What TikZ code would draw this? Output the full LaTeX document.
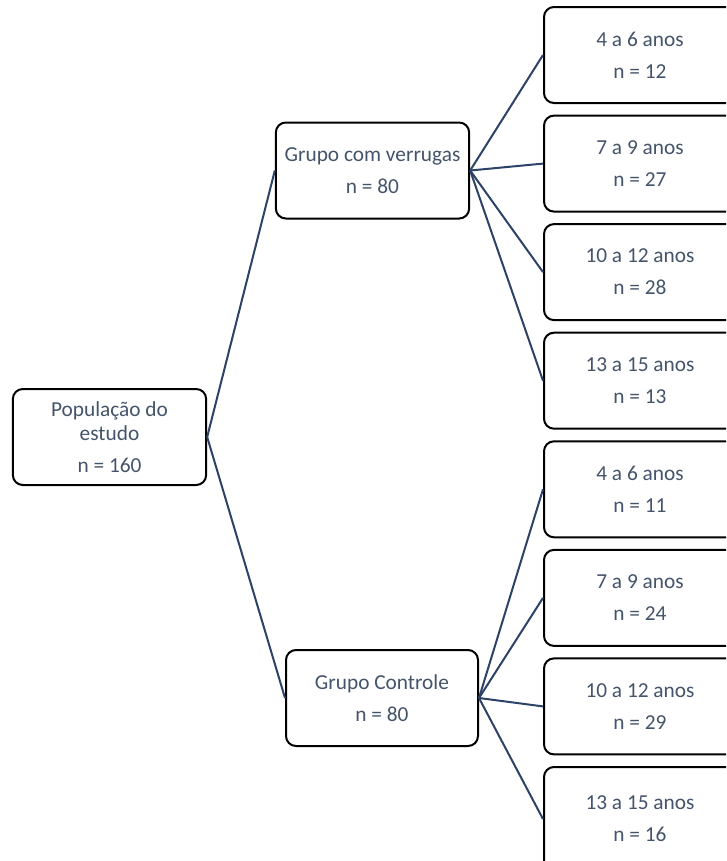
\documentclass[tikz,border=0pt]{standalone}
\usepackage{fontspec}
\setmainfont{Carlito}
\definecolor{txtblue}{HTML}{44546A}
\definecolor{linkblue}{HTML}{2C4266}
\tikzset{
  box/.style={draw=black,line width=1.5pt,rounded corners=7.5pt,fill=white,
    minimum width=#1,minimum height=72pt,inner sep=0pt,align=center,
    text=txtblue,font=\fontsize{16pt}{18pt}\selectfont},
  box/.default=144pt,
  link/.style={draw=linkblue,line width=1.5pt}
}
\begin{document}
\begin{tikzpicture}[x=0.75pt,y=-0.75pt]

% Frame
\clip (0,0) rectangle (726,861);
\fill[white] (0,0) rectangle (726,861);

% Boxes
\node[box=145pt] (root) at (109.5,437) {População do\\estudo\\[6pt]n = 160};
\node[box=145pt] (verr) at (372.5,170.5) {Grupo com verrugas\\[6pt]n = 80};
\node[box=144pt] (ctrl) at (382,698) {Grupo Controle\\[6pt]n = 80};

\node[box] (v1) at (640,55) {4 a 6 anos\\[6pt]n = 12};
\node[box] (v2) at (640,163.6) {7 a 9 anos\\[6pt]n = 27};
\node[box] (v3) at (640,272.1) {10 a 12 anos\\[6pt]n = 28};
\node[box] (v4) at (640,380.7) {13 a 15 anos\\[6pt]n = 13};

\node[box] (c1) at (640,489.3) {4 a 6 anos\\[6pt]n = 11};
\node[box] (c2) at (640,597.9) {7 a 9 anos\\[6pt]n = 24};
\node[box] (c3) at (640,706.4) {10 a 12 anos\\[6pt]n = 29};
\node[box,minimum height=78pt] (c4) at (640,819) {13 a 15 anos\\[6pt]n = 16};

% Links
\draw[link] (root.east) -- (verr.west);
\draw[link] (root.east) -- (ctrl.west);

\draw[link] (verr.east) -- (v1.west);
\draw[link] (verr.east) -- (v2.west);
\draw[link] (verr.east) -- (v3.west);
\draw[link] (verr.east) -- (v4.west);

\draw[link] (ctrl.east) -- (c1.west);
\draw[link] (ctrl.east) -- (c2.west);
\draw[link] (ctrl.east) -- (c3.west);
\draw[link] (ctrl.east) -- (c4.west);

\end{tikzpicture}
\end{document}
